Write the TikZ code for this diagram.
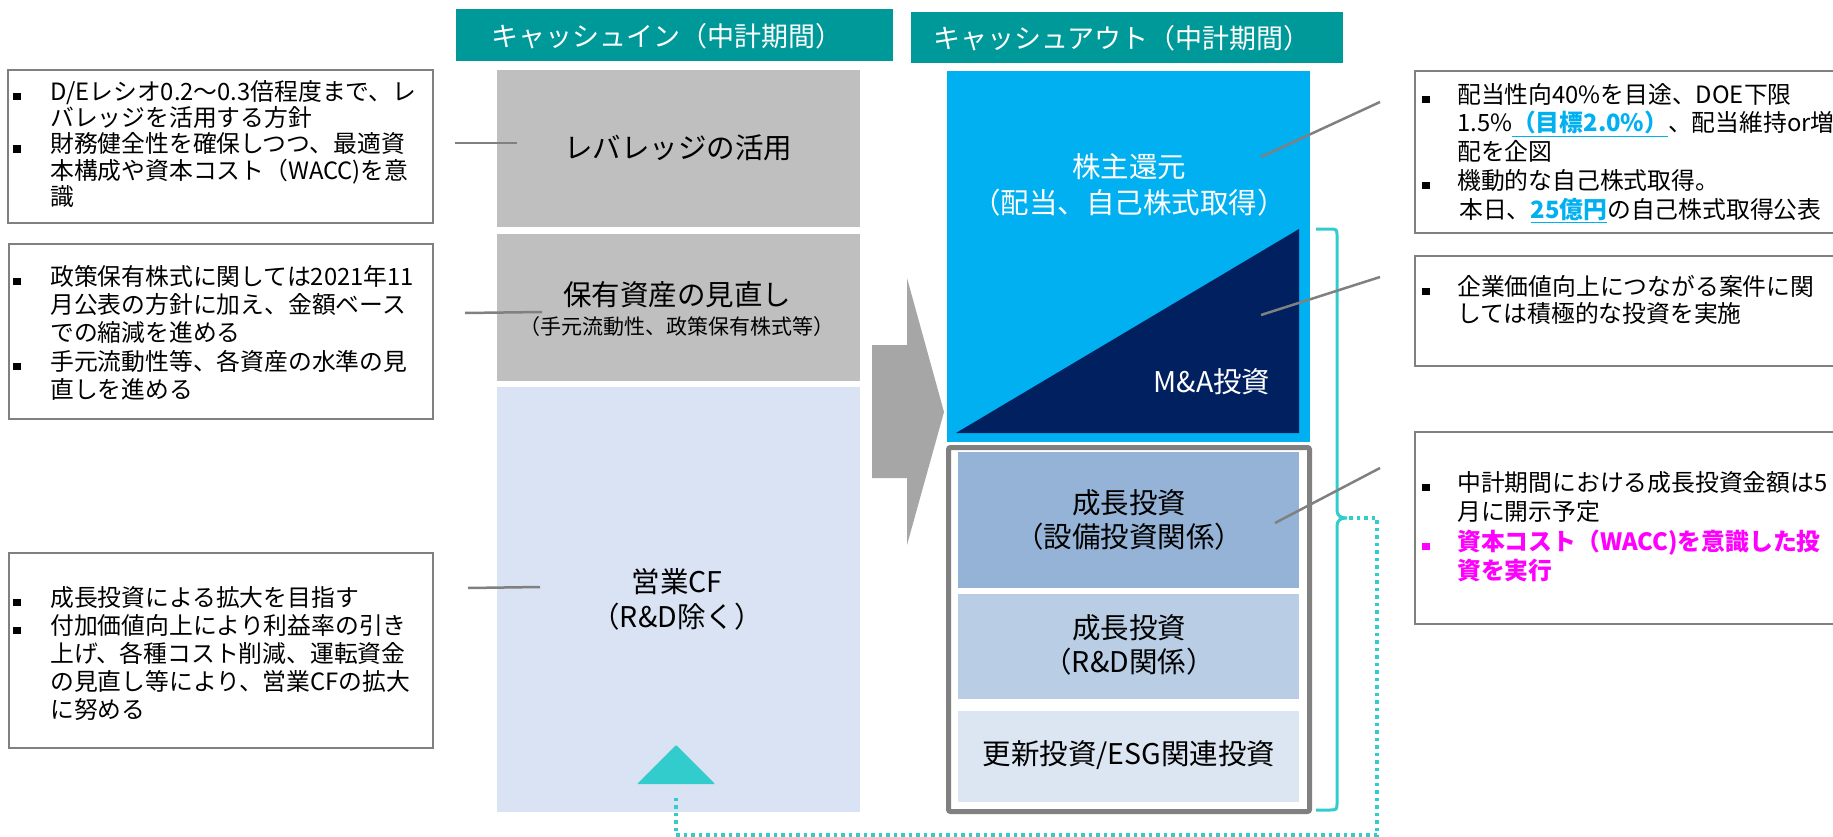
\documentclass[tikz,border=0pt]{standalone}
\usepackage{fontspec}
\setmainfont{Noto Sans CJK JP}
\definecolor{hdrteal}{HTML}{009999}
\definecolor{ingrey}{HTML}{BFBFBF}
\definecolor{cfblue}{HTML}{DAE3F3}
\definecolor{skyb}{HTML}{00B0F0}
\definecolor{mnavy}{HTML}{002060}
\definecolor{ga}{HTML}{95B3D7}
\definecolor{gb}{HTML}{B9CDE5}
\definecolor{gc}{HTML}{DCE6F2}
\definecolor{arrg}{HTML}{A6A6A6}
\definecolor{lng}{HTML}{808080}
\definecolor{turq}{HTML}{33CCCC}
\definecolor{magen}{HTML}{FF00FF}
\newcommand\mybl{\makebox[37pt][l]{\rule{8pt}{7.5pt}}}
\newcommand\myin{\hspace*{37pt}}
\newcommand\mybr{\makebox[35pt][l]{\rule{8pt}{7.5pt}}}
\newcommand\myir{\hspace*{35pt}}
\begin{document}
\begin{tikzpicture}[x=1pt,y=-1pt,
  hdr/.style={fill=hdrteal, inner sep=0, outer sep=0, anchor=north west},
  blk/.style={inner sep=0, outer sep=0, anchor=north west},
  tbox/.style={draw=lng, line width=2pt, inner sep=0, outer sep=0, anchor=north west},
  btxt/.style={inner sep=0, anchor=north west, align=left, text=black},
  lbl/.style={inner sep=0, text=black, font=\fontsize{28.5}{34}\selectfont},
  wlbl/.style={lbl, text=white},
  conn/.style={draw=lng, line width=2.5pt},
  hdrtxt/.style={inner sep=0, text=white, font=\fontsize{27}{32}\selectfont}
]
\useasboundingbox (0,0) rectangle (1833,837);

% headers
\node[hdr, minimum width=437pt, minimum height=52pt] (hin) at (456,9) {};
\node[hdrtxt] (hint) at (667,36) {キャッシュイン（中計期間）};
\node[hdr, minimum width=432pt, minimum height=51pt] (hout) at (911,12) {};
\node[hdrtxt] (houtt) at (1122,38) {キャッシュアウト（中計期間）};

% cash in column
\node[blk, fill=ingrey, minimum width=363pt, minimum height=157pt] (lev) at (497,70) {};
\node[lbl] (levt) at (678,148) {レバレッジの活用};
\node[blk, fill=ingrey, minimum width=363pt, minimum height=147pt] (hoyu) at (497,234) {};
\node[lbl] (hoyut) at (677,295) {保有資産の見直し};
\node[lbl, font=\fontsize{21}{25}\selectfont] (hoyus) at (677,327) {（手元流動性、政策保有株式等）};
\node[blk, fill=cfblue, minimum width=363pt, minimum height=425pt] (cf) at (497,387) {};
\node[lbl] (cft) at (677,582) {営業CF};
\node[lbl] (cfs) at (677,617) {（R\&D除く）};
\fill[turq, rounded corners=1pt] (637,784) -- (676,745) -- (715,784) -- cycle;
\coordinate (tri) at (676,795);

% big arrow
\fill[arrg] (872,345) -- (907,345) -- (907,278) -- (944,412) -- (907,545) -- (907,478) -- (872,478) -- cycle;

% cash out column
\node[blk, fill=skyb, minimum width=363pt, minimum height=371pt] (sh) at (947,71) {};
\fill[mnavy] (956,433) -- (1299,433) -- (1299,229) -- cycle;
\node[wlbl] (sht) at (1129,167) {株主還元};
\node[wlbl] (shs) at (1129,203) {（配当、自己株式取得）};
\node[wlbl] (ma) at (1212,382) {M\&A投資};

\node[blk, draw=lng, line width=5pt, rounded corners=2pt, minimum width=361pt, minimum height=364pt] (grp) at (948.5,447.5) {};
\node[blk, fill=ga, minimum width=341pt, minimum height=136pt] (g1) at (958,452) {};
\node[lbl] (g1t) at (1129,503) {成長投資};
\node[lbl] (g1s) at (1129,537) {（設備投資関係）};
\node[blk, fill=gb, minimum width=341pt, minimum height=105pt] (g2) at (958,594) {};
\node[lbl] (g2t) at (1129,628) {成長投資};
\node[lbl] (g2s) at (1129,662) {（R\&D関係）};
\node[blk, fill=gc, minimum width=341pt, minimum height=91pt] (g3) at (958,711) {};
\node[lbl] (g3t) at (1129,755) {更新投資/ESG関連投資};

% brace and dotted return
\draw[turq, line width=3pt] (1316,229) -- (1329,229) .. controls (1337,229) .. (1337,237) -- (1337,509)
  .. controls (1337,516) and (1340,518) .. (1347,518)
  .. controls (1340,518) and (1337,520) .. (1337,527) -- (1337,802)
  .. controls (1337,810) .. (1329,810) -- (1316,810);
\coordinate (btip) at (1349,518);
\coordinate (dr) at (1377,518);
\coordinate (dbr) at (1377,835);
\coordinate (dbl) at (676,835);
\draw[turq, line width=3.5pt, dash pattern=on 3.5pt off 4pt] (btip) -- (dr) -- (dbr) -- (dbl) -- (tri);

% left text boxes
\node[tbox, minimum width=425pt, minimum height=153pt] (L1) at (8,70) {};
\node[btxt, font=\fontsize{23.8}{26.3}\selectfont] (L1t) at (13,80) {\mybl D/Eレシオ0.2～0.3倍程度まで、レ\\
\myin バレッジを活用する方針\\
\mybl 財務健全性を確保しつつ、最適資\\
\myin 本構成や資本コスト（WACC)を意\\
\myin 識};
\node[tbox, minimum width=424pt, minimum height=175pt] (L2) at (9,244) {};
\node[btxt, font=\fontsize{23.8}{28.3}\selectfont] (L2t) at (13,265) {\mybl 政策保有株式に関しては2021年11\\
\myin 月公表の方針に加え、金額ベース\\
\myin での縮減を進める\\
\mybl 手元流動性等、各資産の水準の見\\
\myin 直しを進める};
\node[tbox, minimum width=424pt, minimum height=195pt] (L3) at (9,553) {};
\node[btxt, font=\fontsize{23.8}{28}\selectfont] (L3t) at (13,586) {\mybl 成長投資による拡大を目指す\\
\mybl 付加価値向上により利益率の引き\\
\myin 上げ、各種コスト削減、運転資金\\
\myin の見直し等により、営業CFの拡大\\
\myin に努める};

% right text boxes
\node[tbox, minimum width=430pt, minimum height=162pt] (R1) at (1415,71) {};
\node[btxt, font=\fontsize{23.8}{28.7}\selectfont] (R1t) at (1422,83) {\mybr 配当性向40\%を目途、DOE下限\\
\myir 1.5\%{\bfseries\color{skyb}\underline{（目標2.0\%）}}、配当維持or増\\
\myir 配を企図\\
\mybr 機動的な自己株式取得。\\
\myir\hspace{2pt}本日、{\bfseries\color{skyb}\underline{25億円}}の自己株式取得公表};
\node[tbox, minimum width=430pt, minimum height=110pt] (R2) at (1415,256) {};
\node[btxt, font=\fontsize{23.8}{26.7}\selectfont] (R2t) at (1422,275) {\mybr 企業価値向上につながる案件に関\\
\myir しては積極的な投資を実施};
\node[tbox, minimum width=430pt, minimum height=192pt] (R3) at (1415,432) {};
\node[btxt, font=\fontsize{23.8}{29.5}\selectfont] (R3t) at (1422,471) {\mybr 中計期間における成長投資金額は5\\
\myir 月に開示予定\\
{\color{magen}\mybr\bfseries 資本コスト（WACC)を意識した投}\\
\myir{\color{magen}\bfseries 資を実行}};

% connectors
\coordinate (c1a) at (455,143); \coordinate (c1b) at (517,143);
\coordinate (c2a) at (465,313); \coordinate (c2b) at (542,312);
\coordinate (c3a) at (468,588); \coordinate (c3b) at (540,587);
\coordinate (c4a) at (1261,157); \coordinate (c4b) at (1380,102);
\coordinate (c5a) at (1261,315); \coordinate (c5b) at (1380,277);
\coordinate (c6a) at (1275,523); \coordinate (c6b) at (1380,468);
\draw[conn] (c1a) -- (c1b);
\draw[conn] (c2a) -- (c2b);
\draw[conn] (c3a) -- (c3b);
\draw[conn] (c4a) -- (c4b);
\draw[conn] (c5a) -- (c5b);
\draw[conn] (c6a) -- (c6b);
\end{tikzpicture}
\end{document}
